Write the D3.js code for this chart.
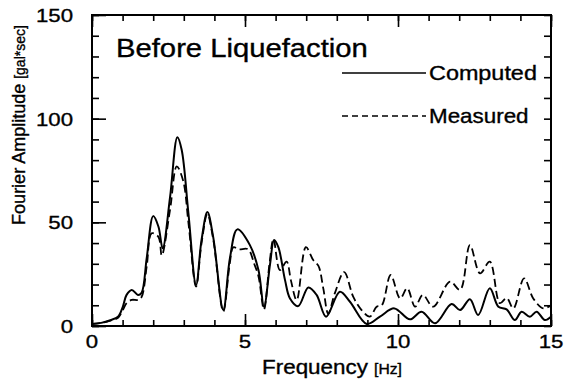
<!DOCTYPE html>
<html>
<head>
<meta charset="utf-8">
<script src="https://cdn.jsdelivr.net/npm/d3@7"></script>
<style>
  body { margin: 0; background: #fff; }
  svg { display: block; font-family: "Liberation Sans", Arial, Helvetica, sans-serif; }
  svg text { fill: #000; stroke: #000; stroke-width: 0.35; }
  .ticks line { stroke: #000; stroke-width: 1.6; }
  .ticks path { display: none; }
</style>
</head>
<body>
<svg id="chart" width="569" height="389"></svg>
<script>
const width = 569;
const height = 389;

// frequency [Hz] and amplitude [gal*sec]
const computedFreq = [0, 0.3, 0.6, 0.85, 1.0, 1.13, 1.3, 1.5, 1.62, 1.79, 2.0, 2.17, 2.31, 2.55, 2.79, 2.93, 3.15, 3.4, 3.58, 3.77, 3.96, 4.29, 4.51, 4.75, 5.16, 5.44, 5.62, 5.82, 5.95, 6.09, 6.31, 6.47, 6.74, 7.07, 7.34, 7.65, 8.1, 8.43, 8.98, 9.41, 9.88, 10.39, 10.77, 11.21, 11.75, 12.03, 12.35, 12.62, 13.0, 13.28, 13.55, 13.82, 14.04, 14.31, 14.53, 14.8, 15.0];
const computedAmp = [1, 1.5, 2.8, 4.5, 9, 15, 17.4, 15, 16, 33, 53, 48, 37.5, 62, 91, 85, 54.5, 19.8, 41.5, 55, 43, 7.7, 33, 46.6, 39, 27, 9.3, 30, 41.5, 38, 22, 13.3, 9.6, 18.6, 15, 4.5, 16.5, 11.7, 1, 4.5, 8.5, 3.2, 6.9, 1.3, 10.6, 7.7, 12.9, 5.3, 18.2, 9.3, 8, 2.9, 6.9, 4.5, 6.9, 2.9, 4.5];

const measuredFreq = [0, 0.3, 0.6, 0.85, 1.0, 1.13, 1.3, 1.5, 1.62, 1.79, 1.95, 2.17, 2.28, 2.55, 2.77, 2.98, 3.15, 3.4, 3.58, 3.77, 3.96, 4.29, 4.5, 4.62, 4.8, 5.1, 5.3, 5.44, 5.62, 5.8, 5.93, 6.14, 6.36, 6.5, 6.69, 6.99, 7.23, 7.4, 7.56, 7.72, 7.94, 8.24, 8.54, 8.81, 9.08, 9.3, 9.47, 9.76, 10.07, 10.3, 10.56, 10.81, 11.15, 11.7, 12.03, 12.35, 12.68, 13.0, 13.33, 13.55, 13.77, 14.12, 14.42, 14.75, 15.0];
const measuredAmp = [1, 1.5, 2.6, 4, 7.5, 11, 12.6, 12.6, 14, 29, 44.7, 43, 34, 56, 77, 70, 50, 19, 40, 54, 42, 7, 30, 38, 37, 37, 30, 24, 8, 30, 42, 27, 31, 22, 12.5, 38, 31.8, 29, 18, 6, 16, 26, 14, 7.7, 4.5, 9.3, 10, 24.6, 13.3, 18.2, 9.3, 15, 9.3, 21.4, 17.4, 39, 25.4, 31, 11, 13.5, 8.5, 23, 13.3, 8.5, 10];

const xTicks = [0, 5, 10, 15];
const yTicks = [0, 50, 100, 150];

const svg = d3.select("#chart");

const plot = { left: 92, right: 551, top: 15, bottom: 326 };

const x = d3.scaleLinear().domain([0, 15]).range([plot.left, plot.right]);
const y = d3.scaleLinear().domain([0, 150]).range([plot.bottom, plot.top]);

// inward ticks on all four sides
function tickGroup(axis, transform) {
    svg.append("g").attr("class", "ticks").attr("transform", transform).call(axis);
}
const minorX = d3.range(0, 16);
const minorY = d3.range(0, 151, 10);

tickGroup(d3.axisBottom(x).tickValues(minorX).tickSize(-6).tickFormat(""), `translate(0,${plot.bottom})`);
tickGroup(d3.axisBottom(x).tickValues(xTicks).tickSize(-12).tickFormat(""), `translate(0,${plot.bottom})`);
tickGroup(d3.axisTop(x).tickValues(minorX).tickSize(-6).tickFormat(""), `translate(0,${plot.top})`);
tickGroup(d3.axisTop(x).tickValues(xTicks).tickSize(-12).tickFormat(""), `translate(0,${plot.top})`);
tickGroup(d3.axisLeft(y).tickValues(minorY).tickSize(-7).tickFormat(""), `translate(${plot.left},0)`);
tickGroup(d3.axisLeft(y).tickValues(yTicks).tickSize(-14).tickFormat(""), `translate(${plot.left},0)`);
tickGroup(d3.axisRight(y).tickValues(minorY).tickSize(-7).tickFormat(""), `translate(${plot.right},0)`);

svg.append("rect")
    .attr("x", plot.left)
    .attr("y", plot.top)
    .attr("width", plot.right - plot.left)
    .attr("height", plot.bottom - plot.top)
    .attr("fill", "none")
    .attr("stroke", "#000")
    .attr("stroke-width", 2);

// tick labels (the scanned font is a bit wide, so stretch horizontally)
svg.append("g")
    .selectAll("text")
    .data(xTicks)
    .join("text")
    .attr("transform", d => `translate(${x(d)},348) scale(1.17,1)`)
    .attr("text-anchor", "middle")
    .attr("font-size", 19)
    .text(d => d);

svg.append("g")
    .selectAll("text")
    .data(yTicks)
    .join("text")
    .attr("transform", d => `translate(73,${y(d) + 7}) scale(1.17,1)`)
    .attr("text-anchor", "end")
    .attr("font-size", 19)
    .text(d => d);

// axis titles
const xTitle = svg.append("text")
    .attr("transform", "translate(332,374) scale(1.12,1)")
    .attr("text-anchor", "middle")
    .attr("font-size", 20);
xTitle.append("tspan").text("Frequency ");
xTitle.append("tspan").attr("font-size", 14).text("[Hz]");

const yTitle = svg.append("text")
    .attr("transform", "translate(25,125) rotate(-90)")
    .attr("text-anchor", "middle")
    .attr("font-size", 18);
yTitle.append("tspan").text("Fourier Amplitude ");
yTitle.append("tspan").attr("font-size", 14).text("[gal*sec]");

// curves
const line = d3.line()
    .x(d => x(d[0]))
    .y(d => y(d[1]))
    .curve(d3.curveCatmullRom.alpha(0.5));

svg.append("path")
    .datum(d3.zip(measuredFreq, measuredAmp))
    .attr("d", line)
    .attr("fill", "none")
    .attr("stroke", "#000")
    .attr("stroke-width", 1.8)
    .attr("stroke-dasharray", "8,4");

svg.append("path")
    .datum(d3.zip(computedFreq, computedAmp))
    .attr("d", line)
    .attr("fill", "none")
    .attr("stroke", "#000")
    .attr("stroke-width", 2);

// title and legend
svg.append("text")
    .attr("transform", "translate(116,57) scale(1.17,1)")
    .attr("font-size", 25)
    .text("Before Liquefaction");

const legend = [
    { label: "Computed", dash: null, y: 73 },
    { label: "Measured", dash: "6,4", y: 116 }
];

const lg = svg.append("g")
    .selectAll("g")
    .data(legend)
    .join("g");

lg.append("line")
    .attr("x1", 342)
    .attr("x2", 426)
    .attr("y1", d => d.y)
    .attr("y2", d => d.y)
    .attr("stroke", "#000")
    .attr("stroke-width", 1.5)
    .attr("stroke-dasharray", d => d.dash);

lg.append("text")
    .attr("transform", d => `translate(429,${d.y + 7}) scale(${d.label === "Computed" ? 1.17 : 1.12},1)`)
    .attr("font-size", 20)
    .text(d => d.label);
</script>
</body>
</html>
